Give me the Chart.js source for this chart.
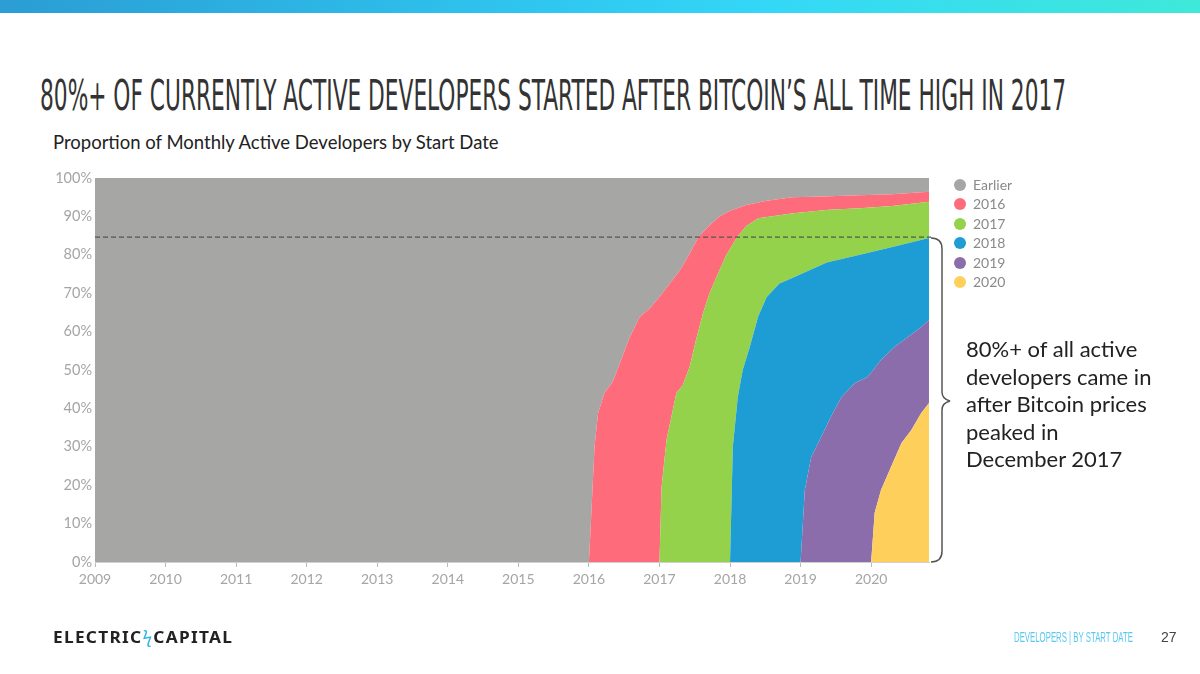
<!DOCTYPE html>
<html>
<head>
<meta charset="utf-8">
<script src="https://cdn.jsdelivr.net/npm/chart.js@4.4.0/dist/chart.umd.min.js"></script>
<style>
  html, body { margin: 0; padding: 0; background: #fff; }
  body { width: 1200px; height: 674px; position: relative; overflow: hidden; font-family: Lato, sans-serif; }
  .topbar { position: absolute; left: 0; top: 0; width: 1200px; height: 13px;
    background: linear-gradient(90deg, #2a9dd4 0%, #2fc6f0 45%, #34d8f7 65%, #3ee9d9 100%); }
  .title { position: absolute; left: 40px; top: 75px; font-family: "Liberation Sans Narrow", "DejaVu Sans Condensed", sans-serif;
    font-size: 42px; line-height: 42px; color: #333; white-space: nowrap; transform-origin: left top; }
  .subtitle { position: absolute; left: 53px; top: 131px; font-size: 18.5px; color: #222; white-space: nowrap; }
  #wrap { position: absolute; left: 40px; top: 160px; width: 920px; height: 442px; }
  .legend { position: absolute; left: 954px; top: 175px; font-size: 14px; color: #8a8a8a; }
  .legend div { height: 19.4px; line-height: 19.4px; white-space: nowrap; }
  .legend span { display: inline-block; width: 12px; height: 12px; border-radius: 50%; margin-right: 7px; vertical-align: -1px; }
  .note { position: absolute; left: 966px; top: 335px; font-size: 22px; line-height: 27.5px; color: #222; }
  .brace { position: absolute; left: 0; top: 0; }
  .logo { position: absolute; left: 53px; top: 626px; font-family: "Noto Sans", sans-serif; font-weight: 700; font-size: 16px;
    letter-spacing: 1.2px; color: #222; white-space: nowrap; transform-origin: left top; }
  .logo b { color: #2bb5e8; font-weight: 400; }
  .foot { position: absolute; left: 1014px; top: 629px; font-family: "Liberation Sans Narrow", sans-serif; font-size: 14.5px;
    color: #5bc8ee; white-space: nowrap; transform-origin: left top; }
  .page { position: absolute; left: 1161px; top: 629px; font-family: "Liberation Sans Narrow", sans-serif; font-size: 14px; color: #444; }
</style>
</head>
<body>
<div class="topbar"></div>
<div class="title" id="title">80%+ OF CURRENTLY ACTIVE DEVELOPERS STARTED AFTER BITCOIN’S ALL TIME HIGH IN 2017</div>
<div class="subtitle">Proportion of Monthly Active Developers by Start Date</div>
<div id="wrap"><canvas id="chart"></canvas></div>
<div class="legend" id="legend"></div>
<svg class="brace" width="1200" height="674">
  <path d="M 931 238 Q 942 238 942 249 L 942 392 Q 942 399 950 401 Q 942 403 942 410 L 942 551 Q 942 562 931 562"
        fill="none" stroke="#555" stroke-width="1.5"/>
</svg>
<div class="note">80%+ of all active<br>developers came in<br>after Bitcoin prices<br>peaked in<br>December 2017</div>
<div class="logo" id="logo">ELECTRIC<b>ϟ</b>CAPITAL</div>
<div class="foot" id="foot">DEVELOPERS | BY START DATE</div>
<div class="page">27</div>

<script>
// share of active developers who started in a given year or later, [year, %]
const since2016 = [[2009, 0], [2016.0, 0], [2016.035, 12.8], [2016.08, 30], [2016.13, 38.8], [2016.22, 44], [2016.34, 47],
  [2016.44, 51.8], [2016.58, 58.6], [2016.72, 63.8], [2016.86, 66], [2017.0, 69], [2017.15, 72.6], [2017.29, 76],
  [2017.42, 80], [2017.55, 84.6], [2017.7, 87.5], [2017.85, 90], [2018.0, 91.5], [2018.23, 93], [2018.5, 94],
  [2018.88, 95], [2019.3, 95.2], [2019.84, 95.5], [2020.3, 95.8], [2020.82, 96.4]];
const since2017 = [[2009, 0], [2017.0, 0], [2017.03, 19.5], [2017.1, 31.8], [2017.24, 44], [2017.33, 46], [2017.43, 51],
  [2017.52, 58], [2017.62, 65], [2017.71, 70], [2017.85, 76], [2017.95, 80], [2018.1, 84.6], [2018.23, 87.5],
  [2018.4, 89.5], [2018.9, 90.8], [2019.4, 91.7], [2019.84, 92.1], [2020.3, 92.7], [2020.82, 93.8]];
const since2018 = [[2009, 0], [2018.0, 0], [2018.04, 30], [2018.11, 43], [2018.18, 50], [2018.28, 56], [2018.4, 64],
  [2018.52, 69], [2018.7, 72.5], [2018.89, 74], [2019.37, 78], [2019.84, 80], [2020.3, 82], [2020.82, 84.4]];
const since2019 = [[2009, 0], [2019.0, 0], [2019.06, 18.75], [2019.15, 27.3], [2019.29, 32.5], [2019.43, 37.8],
  [2019.58, 43], [2019.77, 46.6], [2019.95, 48.2], [2020.14, 52.6], [2020.33, 56], [2020.52, 58.6], [2020.71, 61.2],
  [2020.82, 63]];
const since2020 = [[2009, 0], [2020.0, 0], [2020.05, 12.8], [2020.14, 18.75], [2020.28, 24.7], [2020.43, 31],
  [2020.57, 34.4], [2020.71, 38.8], [2020.82, 41.4]];
const allActive = [[2009, 100], [2020.82, 100]];

const seriesLabels = ['Earlier', '2016', '2017', '2018', '2019', '2020'];
const seriesColors = ['#a6a7a4', '#fe6c7b', '#93d24a', '#1e9dd4', '#8b6dab', '#fed05b'];
const yearTicks = [2009, 2010, 2011, 2012, 2013, 2014, 2015, 2016, 2017, 2018, 2019, 2020];
const thresholdShare = 84.6;

// bottom layer first, each filled down to the one before it
const layers = [since2020, since2019, since2018, since2017, since2016, allActive];
const layerLabels = seriesLabels.slice().reverse();
const layerColors = seriesColors.slice().reverse();

const datasets = layers.map((pts, i) => ({
    label: layerLabels[i],
    data: pts.map(p => ({ x: p[0], y: p[1] })),
    backgroundColor: layerColors[i],
    borderColor: 'transparent',
    borderWidth: 0,
    pointRadius: 0,
    tension: 0,
    fill: i === 0 ? 'origin' : '-1'
}));

const dashedLine = {
    id: 'dashedLine',
    afterDatasetsDraw(chart) {
        const ctx = chart.ctx;
        const area = chart.chartArea;
        const y = chart.scales.y.getPixelForValue(thresholdShare);
        ctx.save();
        ctx.strokeStyle = '#555';
        ctx.lineWidth = 1.3;
        ctx.setLineDash([5, 3]);
        ctx.beginPath();
        ctx.moveTo(area.left, y);
        ctx.lineTo(area.right + 2, y);
        ctx.stroke();
        ctx.restore();
    }
};

new Chart(document.getElementById('chart'), {
    type: 'line',
    data: { datasets: datasets },
    options: {
        responsive: true,
        maintainAspectRatio: false,
        animation: false,
        layout: { padding: { top: 18, right: 31, bottom: 0, left: 0 } },
        plugins: {
            legend: { display: false },
            tooltip: { enabled: false }
        },
        scales: {
            x: {
                type: 'linear',
                min: 2009,
                max: 2020.82,
                afterBuildTicks: scale => { scale.ticks = yearTicks.map(v => ({ value: v })); },
                afterFit: scale => { scale.height = 40; },
                ticks: {
                    callback: v => String(v),
                    color: '#a5a5a5',
                    font: { family: 'Lato', size: 14 },
                    padding: 4,
                    maxRotation: 0
                },
                grid: { display: true, drawOnChartArea: false, tickLength: 5, color: '#bbb' },
                border: { color: '#d0d0d0' }
            },
            y: {
                min: 0,
                max: 100,
                afterFit: scale => { scale.width = 55; },
                ticks: {
                    stepSize: 10,
                    callback: v => v + '%',
                    color: '#a5a5a5',
                    font: { family: 'Lato', size: 14.5 },
                    padding: 3
                },
                grid: { display: false, drawTicks: false },
                border: { color: '#dcdcdc' }
            }
        }
    },
    plugins: [dashedLine]
});

// legend
const legend = document.getElementById('legend');
seriesLabels.forEach((name, i) => {
    const row = document.createElement('div');
    row.innerHTML = '<span style="background:' + seriesColors[i] + '"></span>' + name;
    legend.appendChild(row);
});

function fitWidth(id, target) {
    const el = document.getElementById(id);
    el.style.transform = 'scaleX(' + (target / el.offsetWidth) + ')';
}
fitWidth('title', 1026);
fitWidth('logo', 180);
fitWidth('foot', 119);
</script>
</body>
</html>
